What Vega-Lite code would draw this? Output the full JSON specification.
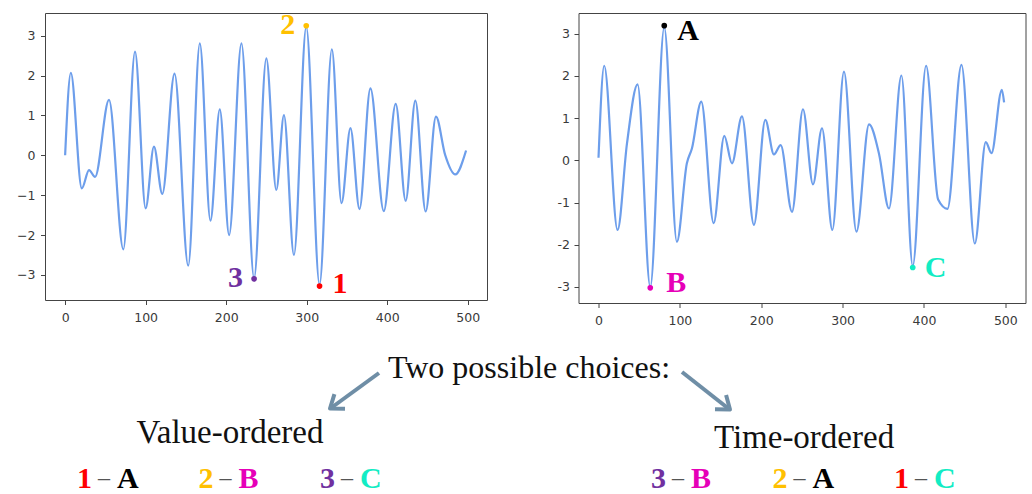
{
  "$schema": "https://vega.github.io/schema/vega-lite/v6.json",
  "padding": {"left": 16, "top": 9, "right": 0, "bottom": 0},
  "autosize": {"type": "pad"},
  "background": "white",
  "config": {
    "view": {"stroke": "#444444", "strokeWidth": 1},
    "axis": {"domain": false, "grid": false, "ticks": true, "tickSize": 4.5, "tickColor": "#444444", "labelColor": "#3a3a3a", "labelFont": "DejaVu Sans", "labelFontSize": 12.5, "title": null},
    "axisX": {"labelPadding": 7},
    "axisY": {"labelPadding": 5.5}
  },
  "datasets": {
    "left_series": [
      {"t": 0, "v": 0.0}, {"t": 7.1, "v": 2.07}, {"t": 20.7, "v": -0.83}, {"t": 29.7, "v": -0.37}, {"t": 37.2, "v": -0.54},
      {"t": 54.5, "v": 1.39}, {"t": 72.3, "v": -2.36}, {"t": 86.8, "v": 2.6}, {"t": 100, "v": -1.33}, {"t": 110.3, "v": 0.22},
      {"t": 120.7, "v": -0.97}, {"t": 135.9, "v": 2.05}, {"t": 152.9, "v": -2.77}, {"t": 167.3, "v": 2.81}, {"t": 180.5, "v": -1.64},
      {"t": 192.1, "v": 1.15}, {"t": 203.7, "v": -2.0}, {"t": 219, "v": 2.81}, {"t": 234.7, "v": -3.08}, {"t": 249.9, "v": 2.43},
      {"t": 262.3, "v": -0.87}, {"t": 271.8, "v": 1.01}, {"t": 284.2, "v": -2.5}, {"t": 299.5, "v": 3.22}, {"t": 316, "v": -3.24},
      {"t": 331.3, "v": 2.66}, {"t": 343.3, "v": -1.2}, {"t": 354.4, "v": 0.68}, {"t": 365.6, "v": -1.35}, {"t": 379.2, "v": 1.68},
      {"t": 395.8, "v": -1.4}, {"t": 410.6, "v": 1.29}, {"t": 423, "v": -1.14}, {"t": 435, "v": 1.37}, {"t": 447.8, "v": -1.41},
      {"t": 460.6, "v": 0.97}, {"t": 472, "v": 0.01}, {"t": 484.5, "v": -0.48}, {"t": 498, "v": 0.12}
    ],
    "right_series": [
      {"t": 0, "v": 0.06}, {"t": 7, "v": 2.24}, {"t": 23.4, "v": -1.65}, {"t": 35, "v": 0.4}, {"t": 48, "v": 1.8},
      {"t": 63.6, "v": -3.0}, {"t": 80.8, "v": 3.15}, {"t": 96.3, "v": -1.93}, {"t": 108.6, "v": -0.07}, {"t": 114.8, "v": 0.28},
      {"t": 126.3, "v": 1.39}, {"t": 141.5, "v": -1.49}, {"t": 154.6, "v": 0.58}, {"t": 164, "v": -0.07}, {"t": 176.3, "v": 1.04},
      {"t": 191, "v": -1.53}, {"t": 205, "v": 0.96}, {"t": 215.6, "v": 0.14}, {"t": 223.9, "v": 0.36}, {"t": 237.8, "v": -1.22},
      {"t": 251.3, "v": 1.21}, {"t": 263.6, "v": -0.57}, {"t": 274.7, "v": 0.76}, {"t": 287.4, "v": -1.65}, {"t": 301.7, "v": 2.1},
      {"t": 317, "v": -1.69}, {"t": 332.5, "v": 0.85}, {"t": 344.8, "v": 0.15}, {"t": 357, "v": -1.14}, {"t": 372.3, "v": 2.01},
      {"t": 386.2, "v": -2.5}, {"t": 402.6, "v": 2.24}, {"t": 417.4, "v": -0.93}, {"t": 428.9, "v": -1.15}, {"t": 446.1, "v": 2.26},
      {"t": 462.5, "v": -1.97}, {"t": 476, "v": 0.43}, {"t": 483, "v": 0.17}, {"t": 495.7, "v": 1.67}, {"t": 498.5, "v": 1.37}
    ],
    "left_marks": [
      {"id": "1", "t": 316, "v": -3.28},
      {"id": "2", "t": 299.5, "v": 3.25},
      {"id": "3", "t": 234.7, "v": -3.1}
    ],
    "right_marks": [
      {"id": "A", "t": 80.8, "v": 3.19},
      {"id": "B", "t": 63.6, "v": -3.02},
      {"id": "C", "t": 386.2, "v": -2.54}
    ],
    "pairs": [
      {"group": "Value-ordered", "rank": 1, "num": "1", "letter": "A"},
      {"group": "Value-ordered", "rank": 2, "num": "2", "letter": "B"},
      {"group": "Value-ordered", "rank": 3, "num": "3", "letter": "C"},
      {"group": "Time-ordered", "rank": 1, "num": "3", "letter": "B"},
      {"group": "Time-ordered", "rank": 2, "num": "2", "letter": "A"},
      {"group": "Time-ordered", "rank": 3, "num": "1", "letter": "C"}
    ],
    "groups": [
      {"group": "Value-ordered"},
      {"group": "Time-ordered"}
    ]
  },
  "vconcat": [
    {
      "hconcat": [
        {
          "width": 442,
          "height": 287,
          "layer": [
            {
              "data": {"name": "left_series"},
              "mark": {"type": "line", "interpolate": "monotone", "color": "#6d9eeb", "strokeWidth": 2.2},
              "encoding": {
                "x": {"field": "t", "type": "quantitative", "scale": {"domain": [-25, 524], "nice": false, "zero": false}, "axis": {"values": [0, 100, 200, 300, 400, 500]}},
                "y": {"field": "v", "type": "quantitative", "scale": {"domain": [-3.63, 3.57], "nice": false, "zero": false}, "axis": {"values": [-3, -2, -1, 0, 1, 2, 3]}}
              }
            },
            {
              "data": {"name": "left_marks"},
              "mark": {"type": "point", "filled": true, "size": 32, "opacity": 1},
              "encoding": {
                "x": {"field": "t", "type": "quantitative"},
                "y": {"field": "v", "type": "quantitative"},
                "color": {"field": "id", "type": "nominal", "scale": {"domain": ["1", "2", "3", "A", "B", "C"], "range": ["#ff0000", "#ffc000", "#7030a0", "#000000", "#e600b8", "#13ecc4"]}, "legend": null}
              }
            },
            {
              "data": {"name": "left_marks"},
              "transform": [{"filter": "datum.id != '1'"}],
              "mark": {"type": "text", "align": "right", "baseline": "middle", "dx": -11, "dy": -1, "font": "Liberation Serif", "fontWeight": "bold", "fontSize": 30},
              "encoding": {
                "x": {"field": "t", "type": "quantitative"},
                "y": {"field": "v", "type": "quantitative"},
                "text": {"field": "id"},
                "color": {"field": "id", "type": "nominal", "legend": null}
              }
            },
            {
              "data": {"name": "left_marks"},
              "transform": [{"filter": "datum.id == '1'"}],
              "mark": {"type": "text", "align": "left", "baseline": "middle", "dx": 13, "dy": -2, "font": "Liberation Serif", "fontWeight": "bold", "fontSize": 30},
              "encoding": {
                "x": {"field": "t", "type": "quantitative"},
                "y": {"field": "v", "type": "quantitative"},
                "text": {"field": "id"},
                "color": {"field": "id", "type": "nominal", "legend": null}
              }
            }
          ]
        },
        {
          "width": 447,
          "height": 290,
          "layer": [
            {
              "data": {"name": "right_series"},
              "mark": {"type": "line", "interpolate": "monotone", "color": "#6d9eeb", "strokeWidth": 2.2},
              "encoding": {
                "x": {"field": "t", "type": "quantitative", "scale": {"domain": [-24.6, 524.8], "nice": false, "zero": false}, "axis": {"values": [0, 100, 200, 300, 400, 500]}},
                "y": {"field": "v", "type": "quantitative", "scale": {"domain": [-3.38, 3.49], "nice": false, "zero": false}, "axis": {"values": [-3, -2, -1, 0, 1, 2, 3], "labelPadding": 4.5, "labelExpr": "replace(datum.label, '\u2212', '-')"}}
              }
            },
            {
              "data": {"name": "right_marks"},
              "mark": {"type": "point", "filled": true, "size": 32, "opacity": 1},
              "encoding": {
                "x": {"field": "t", "type": "quantitative"},
                "y": {"field": "v", "type": "quantitative"},
                "color": {"field": "id", "type": "nominal", "legend": null}
              }
            },
            {
              "data": {"name": "right_marks"},
              "transform": [{"filter": "datum.id == 'A'"}],
              "mark": {"type": "text", "align": "left", "baseline": "middle", "dx": 13, "dy": 5, "font": "Liberation Serif", "fontWeight": "bold", "fontSize": 30},
              "encoding": {
                "x": {"field": "t", "type": "quantitative"},
                "y": {"field": "v", "type": "quantitative"},
                "text": {"field": "id"},
                "color": {"field": "id", "type": "nominal", "legend": null}
              }
            },
            {
              "data": {"name": "right_marks"},
              "transform": [{"filter": "datum.id == 'B'"}],
              "mark": {"type": "text", "align": "left", "baseline": "middle", "dx": 16, "dy": -5, "font": "Liberation Serif", "fontWeight": "bold", "fontSize": 30},
              "encoding": {
                "x": {"field": "t", "type": "quantitative"},
                "y": {"field": "v", "type": "quantitative"},
                "text": {"field": "id"},
                "color": {"field": "id", "type": "nominal", "legend": null}
              }
            },
            {
              "data": {"name": "right_marks"},
              "transform": [{"filter": "datum.id == 'C'"}],
              "mark": {"type": "text", "align": "left", "baseline": "middle", "dx": 12, "dy": 0, "font": "Liberation Serif", "fontWeight": "bold", "fontSize": 30},
              "encoding": {
                "x": {"field": "t", "type": "quantitative"},
                "y": {"field": "v", "type": "quantitative"},
                "text": {"field": "id"},
                "color": {"field": "id", "type": "nominal", "legend": null}
              }
            }
          ]
        }
      ],
      "spacing": 68.5
    },
    {
      "width": 988,
      "height": 160,
      "view": {"stroke": null},
      "resolve": {"scale": {"x": "independent"}},
      "layer": [
        {
          "data": {"values": [{"text": "Two possible choices:"}]},
          "mark": {"type": "text", "align": "center", "baseline": "alphabetic", "font": "Liberation Serif", "fontSize": 32, "color": "#111111"},
          "encoding": {
            "x": {"datum": 528, "type": "quantitative", "scale": {"domain": [44, 1032], "nice": false, "zero": false}, "axis": null},
            "y": {"datum": 46, "type": "quantitative", "scale": {"domain": [0, 160], "reverse": true, "nice": false, "zero": false}, "axis": null},
            "text": {"field": "text"}
          }
        },
        {
          "data": {"values": [{"arrow": "left"}]},
          "mark": {"type": "rule", "color": "#6f8ea6", "strokeWidth": 4},
          "encoding": {
            "x": {"datum": 378, "type": "quantitative", "scale": {"domain": [44, 1032], "nice": false, "zero": false}, "axis": null},
            "y": {"datum": 41, "type": "quantitative", "axis": null},
            "x2": {"datum": 330},
            "y2": {"datum": 76}
          }
        },
        {
          "data": {"values": [{"arrow": "left"}]},
          "mark": {"type": "point", "shape": "M -1 -0.75 L 0 0 L -1 0.75", "filled": false, "size": 576, "angle": 144, "color": "#6f8ea6", "strokeWidth": 4, "opacity": 1, "strokeJoin": "round"},
          "encoding": {
            "x": {"datum": 329, "type": "quantitative", "scale": {"domain": [44, 1032], "nice": false, "zero": false}, "axis": null},
            "y": {"datum": 76.5, "type": "quantitative", "axis": null}
          }
        },
        {
          "data": {"values": [{"arrow": "right"}]},
          "mark": {"type": "rule", "color": "#6f8ea6", "strokeWidth": 4},
          "encoding": {
            "x": {"datum": 681, "type": "quantitative", "scale": {"domain": [44, 1032], "nice": false, "zero": false}, "axis": null},
            "y": {"datum": 40, "type": "quantitative", "axis": null},
            "x2": {"datum": 728},
            "y2": {"datum": 77}
          }
        },
        {
          "data": {"values": [{"arrow": "right"}]},
          "mark": {"type": "point", "shape": "M -1 -0.75 L 0 0 L -1 0.75", "filled": false, "size": 576, "angle": 38, "color": "#6f8ea6", "strokeWidth": 4, "opacity": 1, "strokeJoin": "round"},
          "encoding": {
            "x": {"datum": 729, "type": "quantitative", "scale": {"domain": [44, 1032], "nice": false, "zero": false}, "axis": null},
            "y": {"datum": 77.5, "type": "quantitative", "axis": null}
          }
        },
        {
          "data": {"name": "groups"},
          "transform": [{"filter": "datum.group == 'Value-ordered'"}],
          "mark": {"type": "text", "align": "center", "baseline": "alphabetic", "font": "Liberation Serif", "fontSize": 33, "color": "#111111"},
          "encoding": {
            "x": {"field": "group", "type": "nominal", "scale": {"type": "point", "domain": ["Value-ordered", "Time-ordered"], "padding": 0.3606, "align": 0.4469}, "axis": null},
            "y": {"datum": 111, "type": "quantitative", "axis": null},
            "text": {"field": "group"}
          }
        },
        {
          "data": {"name": "groups"},
          "transform": [{"filter": "datum.group == 'Time-ordered'"}],
          "mark": {"type": "text", "align": "center", "baseline": "alphabetic", "font": "Liberation Serif", "fontSize": 33, "color": "#111111"},
          "encoding": {
            "x": {"field": "group", "type": "nominal", "scale": {"type": "point", "domain": ["Value-ordered", "Time-ordered"], "padding": 0.3606, "align": 0.4469}, "axis": null},
            "y": {"datum": 116, "type": "quantitative", "axis": null},
            "text": {"field": "group"}
          }
        },
        {
          "data": {"name": "pairs"},
          "mark": {"type": "text", "align": "right", "baseline": "alphabetic", "dx": -12, "font": "Liberation Serif", "fontWeight": "bold", "fontSize": 30},
          "encoding": {
            "x": {"field": "group", "type": "nominal", "scale": {"type": "point", "domain": ["Value-ordered", "Time-ordered"], "padding": 0.3606, "align": 0.4469}, "axis": null},
            "xOffset": {"field": "rank", "type": "ordinal", "scale": {"type": "point", "padding": 0, "range": [-126, 117]}},
            "y": {"datum": 156, "type": "quantitative", "axis": null},
            "text": {"field": "num"},
            "color": {"field": "num", "type": "nominal", "legend": null}
          }
        },
        {
          "data": {"name": "pairs"},
          "mark": {"type": "text", "align": "center", "baseline": "alphabetic", "font": "Liberation Serif", "fontSize": 24, "color": "#555555"},
          "encoding": {
            "x": {"field": "group", "type": "nominal", "scale": {"type": "point", "domain": ["Value-ordered", "Time-ordered"], "padding": 0.3606, "align": 0.4469}, "axis": null},
            "xOffset": {"field": "rank", "type": "ordinal", "scale": {"type": "point", "padding": 0, "range": [-126, 117]}},
            "y": {"datum": 153, "type": "quantitative", "axis": null},
            "text": {"value": "\u2013"}
          }
        },
        {
          "data": {"name": "pairs"},
          "mark": {"type": "text", "align": "left", "baseline": "alphabetic", "dx": 13, "font": "Liberation Serif", "fontWeight": "bold", "fontSize": 30},
          "encoding": {
            "x": {"field": "group", "type": "nominal", "scale": {"type": "point", "domain": ["Value-ordered", "Time-ordered"], "padding": 0.3606, "align": 0.4469}, "axis": null},
            "xOffset": {"field": "rank", "type": "ordinal", "scale": {"type": "point", "padding": 0, "range": [-126, 117]}},
            "y": {"datum": 156, "type": "quantitative", "axis": null},
            "text": {"field": "letter"},
            "color": {"field": "letter", "type": "nominal", "legend": null}
          }
        }
      ]
    }
  ],
  "spacing": 4
}
